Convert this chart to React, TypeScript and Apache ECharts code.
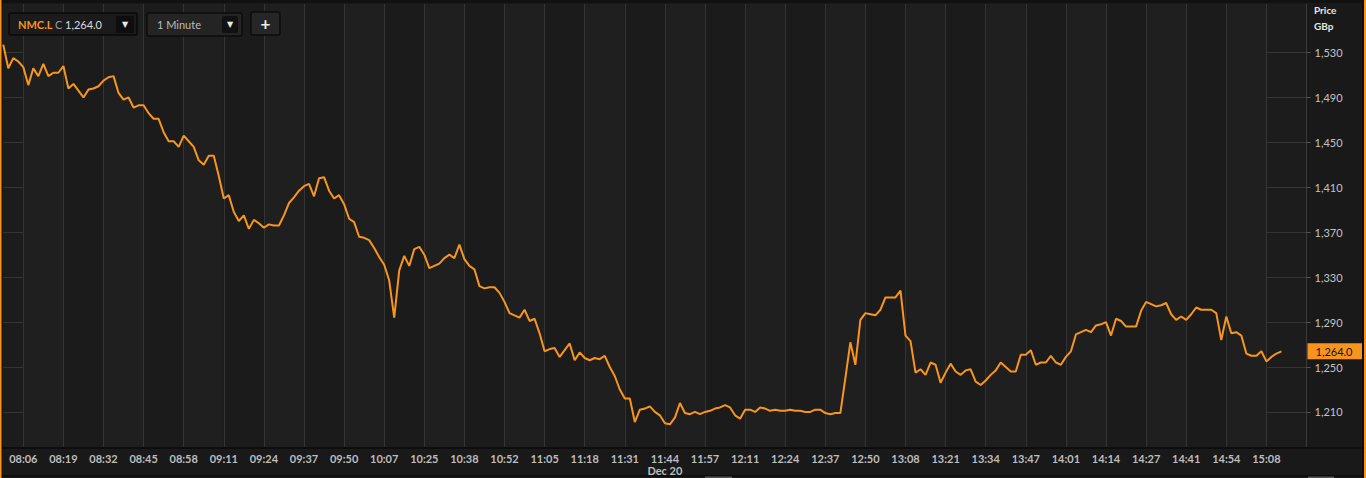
import React, { useEffect, useRef } from "react";
import * as echarts from "echarts";

const tickLabels = [
  "08:06", "08:19", "08:32", "08:45", "08:58", "09:11", "09:24", "09:37",
  "09:50", "10:07", "10:25", "10:38", "10:52", "11:05", "11:18", "11:31",
  "11:44", "11:57", "12:11", "12:24", "12:37", "12:50", "13:08", "13:21",
  "13:34", "13:47", "14:01", "14:14", "14:27", "14:41", "14:54", "15:08",
];
const dateMarkTick = "11:44";
const dateMarkText = "Dec 20";
const priceTicks = [1210, 1250, 1290, 1330, 1370, 1410, 1450, 1490, 1530];

const prices = [
  1537, 1516, 1525, 1522, 1517, 1501, 1516, 1509, 1520, 1509,
  1512, 1512, 1518, 1498, 1502, 1496, 1490, 1497, 1498, 1500,
  1505, 1508, 1509, 1494, 1488, 1490, 1481, 1483, 1483, 1476,
  1471, 1471, 1459, 1451, 1451, 1446, 1456, 1451, 1446, 1434,
  1430, 1438, 1438, 1420, 1400, 1403, 1388, 1380, 1385, 1373,
  1381, 1378, 1374, 1377, 1376, 1376, 1385, 1396, 1401, 1407,
  1411, 1413, 1402, 1418, 1419, 1407, 1400, 1403, 1395, 1382,
  1379, 1366, 1365, 1363, 1356, 1348, 1341, 1327, 1294, 1336,
  1349, 1340, 1355, 1357, 1350, 1338, 1340, 1342, 1347, 1350,
  1347, 1359, 1346, 1340, 1337, 1322, 1320, 1321, 1321, 1316,
  1308, 1298, 1296, 1294, 1301, 1291, 1293, 1280, 1264, 1266,
  1267, 1259, 1265, 1271, 1256, 1263, 1258, 1256, 1258, 1257,
  1260, 1250, 1242, 1230, 1222, 1222, 1201, 1212, 1213, 1215,
  1210, 1207, 1200, 1199, 1205, 1218, 1209, 1208, 1210, 1208,
  1210, 1211, 1213, 1214, 1216, 1214, 1207, 1204, 1212, 1212,
  1210, 1214, 1213, 1211, 1212, 1211, 1211, 1212, 1211, 1211,
  1210, 1210, 1212, 1212, 1209, 1208, 1209, 1209, 1240, 1272,
  1252, 1292, 1298, 1297, 1296, 1301, 1312, 1312, 1312, 1318,
  1278, 1273, 1245, 1248, 1243, 1254, 1252, 1236, 1245, 1253,
  1246, 1243, 1247, 1248, 1237, 1234, 1238, 1243, 1247, 1254,
  1250, 1246, 1246, 1261, 1261, 1265, 1252, 1254, 1254, 1260,
  1254, 1252, 1259, 1264, 1279, 1281, 1283, 1281, 1287, 1288,
  1290, 1278, 1293, 1291, 1286, 1286, 1286, 1300, 1308, 1306,
  1304, 1305, 1307, 1297, 1292, 1295, 1292, 1297, 1303, 1301,
  1301, 1301, 1298, 1274, 1295, 1280, 1281, 1278, 1262, 1260,
  1260, 1264, 1255, 1259, 1262, 1264,
];

const symbolName = "NMC.L";
const intervalName = "1 Minute";
const unitTitle = "Price";
const unitName = "GBp";

const POINTS_PER_TICK = 8;
const FIRST_TICK = 4;
const CATEGORY_COUNT = FIRST_TICK + POINTS_PER_TICK * tickLabels.length + 1;

const fmt = (v: number, d = 0) =>
  v.toLocaleString("en-US", { minimumFractionDigits: d, maximumFractionDigits: d });

export default function App() {
  const ref = useRef<HTMLDivElement>(null);

  useEffect(() => {
    if (!ref.current) return;
    const chart = echarts.init(ref.current, null, { renderer: "svg" });

    const categories: string[] = [];
    for (let i = 0; i < CATEGORY_COUNT; i++) {
      const k = (i - FIRST_TICK) / POINTS_PER_TICK;
      categories.push(Number.isInteger(k) && k >= 0 && k < tickLabels.length ? tickLabels[k] : "p" + i);
    }
    const isTick = (index: number) => {
      const k = (index - FIRST_TICK) / POINTS_PER_TICK;
      return Number.isInteger(k) && k >= 0 && k < tickLabels.length;
    };
    const last = prices[prices.length - 1];
    const orange = "#f7941d";
    const font = "Lato";

    chart.setOption({
      animation: false,
      backgroundColor: "#191919",
      textStyle: { fontFamily: font },
      grid: {
        left: 3.25,
        right: 59.5,
        top: 4,
        bottom: 30,
        show: true,
        backgroundColor: "#1c1c1c",
        borderWidth: 0,
      },
      xAxis: {
        type: "category",
        data: categories,
        boundaryGap: false,
        axisLine: { show: false },
        axisTick: { show: false },
        axisLabel: {
          interval: (index: number) => isTick(index),
          formatter: (v: string) => (v === dateMarkTick ? v + "\n" + dateMarkText : v),
          color: "#bdbdbd",
          fontSize: 11,
          fontWeight: "bold",
          fontFamily: font,
          margin: 4,
          lineHeight: 12,
        },
        splitLine: {
          show: true,
          interval: (index: number) => isTick(index),
          lineStyle: { color: "#343434", width: 1 },
        },
        splitArea: {
          show: true,
          interval: (index: number) => isTick(index),
          areaStyle: { color: ["#1f1f1f", "#1b1b1b"] },
        },
      },
      yAxis: {
        type: "value",
        position: "right",
        min: 1177.9,
        max: 1573.2,
        axisLine: { show: true, lineStyle: { color: "#3a3a3a", width: 1 } },
        axisTick: { show: true, length: 4, lineStyle: { color: "#555" }, customValues: priceTicks },
        axisLabel: {
          customValues: priceTicks,
          formatter: (v: number) => fmt(v),
          color: "#c4c4c4",
          fontSize: 11,
          fontFamily: font,
          margin: 8,
        },
        splitLine: { show: true, lineStyle: { color: "#343434", width: 1 } },
      },
      series: [
        {
          type: "line",
          data: prices,
          symbol: "none",
          smooth: false,
          lineStyle: { color: "#f7961f", width: 2 },
          markLine: {
            silent: true,
            symbol: "none",
            lineStyle: { width: 0, color: "rgba(0,0,0,0)" },
            label: {
              show: true,
              position: "end",
              distance: 1,
              formatter: () => fmt(last, 1),
              backgroundColor: orange,
              color: "#111",
              fontSize: 11,
              fontFamily: font,
              padding: [3, 10, 2, 8],
            },
            data: [{ yAxis: last }],
          },
        },
      ],
      graphic: {
        elements: [
          { type: "rect", left: 0, top: 0, shape: { width: 1366, height: 3 }, style: { fill: "#111" }, z: 50 },
          { type: "rect", left: 0, top: 447, shape: { width: 1366, height: 2 }, style: { fill: "#0d0d0d" }, z: 50 },
          { type: "rect", left: 0, top: 475, shape: { width: 1366, height: 1.5 }, style: { fill: "#0d0d0d" }, z: 50 },
          { type: "rect", left: 0, top: 0, shape: { width: 1.5, height: 478 }, style: { fill: orange }, z: 60 },
          { type: "rect", left: 1362, top: 0, shape: { width: 2, height: 478 }, style: { fill: "#0d0d0d" }, z: 60 },
          { type: "rect", left: 1364, top: 0, shape: { width: 2, height: 478 }, style: { fill: orange }, z: 60 },
          { type: "rect", left: 705, top: 476.5, shape: { width: 27, height: 1.5 }, style: { fill: "#555" }, z: 60 },
          { type: "rect", left: 1308, top: 476.5, shape: { width: 26, height: 1.5 }, style: { fill: "#555" }, z: 60 },
          // Price / GBp
          { type: "text", left: 1314, top: 5, style: { text: unitTitle, fill: "#e6e6e6", font: `bold 10px ${font}` }, z: 60 },
          { type: "text", left: 1314, top: 21, style: { text: unitName, fill: "#e6e6e6", font: `bold 10px ${font}` }, z: 60 },
          // Symbol box
          {
            type: "rect",
            shape: { x: 9, y: 13, width: 128, height: 22, r: 1 },
            style: { fill: "#1b1b1b", stroke: "#0a0a0a", lineWidth: 1.5 },
            z: 60,
          },
          { type: "text", x: 18, y: 24.5, style: { text: symbolName, fill: orange, font: `bold 11px ${font}`, verticalAlign: "middle" }, z: 61 },
          { type: "text", x: 55, y: 24.5, style: { text: "C", fill: "#9a9a9a", font: `11px ${font}`, verticalAlign: "middle" }, z: 61 },
          { type: "text", x: 65, y: 24.5, style: { text: fmt(last, 1), fill: "#dddddd", font: `11px ${font}`, verticalAlign: "middle" }, z: 61 },
          { type: "rect", shape: { x: 116, y: 16, width: 18, height: 17 }, style: { fill: "#0e0e0e" }, z: 61 },
          { type: "text", x: 125, y: 24.5, style: { text: "▼", fill: "#e8e8e8", font: "8px 'DejaVu Sans'", align: "center", verticalAlign: "middle" }, z: 62 },
          // Interval box
          {
            type: "rect",
            shape: { x: 147, y: 13, width: 95, height: 23, r: 2 },
            style: { fill: "#242424", stroke: "#0c0c0c", lineWidth: 1.5 },
            z: 60,
          },
          { type: "text", x: 157, y: 24.5, style: { text: intervalName, fill: "#bbbbbb", font: `11px ${font}`, verticalAlign: "middle" }, z: 61 },
          { type: "rect", shape: { x: 222, y: 16, width: 16, height: 17, r: 2 }, style: { fill: "#111" }, z: 61 },
          { type: "text", x: 230, y: 24.5, style: { text: "▼", fill: "#e8e8e8", font: "8px 'DejaVu Sans'", align: "center", verticalAlign: "middle" }, z: 62 },
          // Plus button
          {
            type: "rect",
            shape: { x: 251, y: 12, width: 29, height: 23, r: 2 },
            style: { fill: "#262626", stroke: "#0c0c0c", lineWidth: 1.5 },
            z: 60,
          },
          { type: "text", x: 265.5, y: 23, style: { text: "+", fill: "#eeeeee", font: `bold 17px ${font}`, align: "center", verticalAlign: "middle" }, z: 61 },
        ],
      },
    });

    return () => chart.dispose();
  }, []);

  return (
    <div
      ref={ref}
      style={{ position: "fixed", left: 0, top: 0, width: 1366, height: 478 }}
    />
  );
}
